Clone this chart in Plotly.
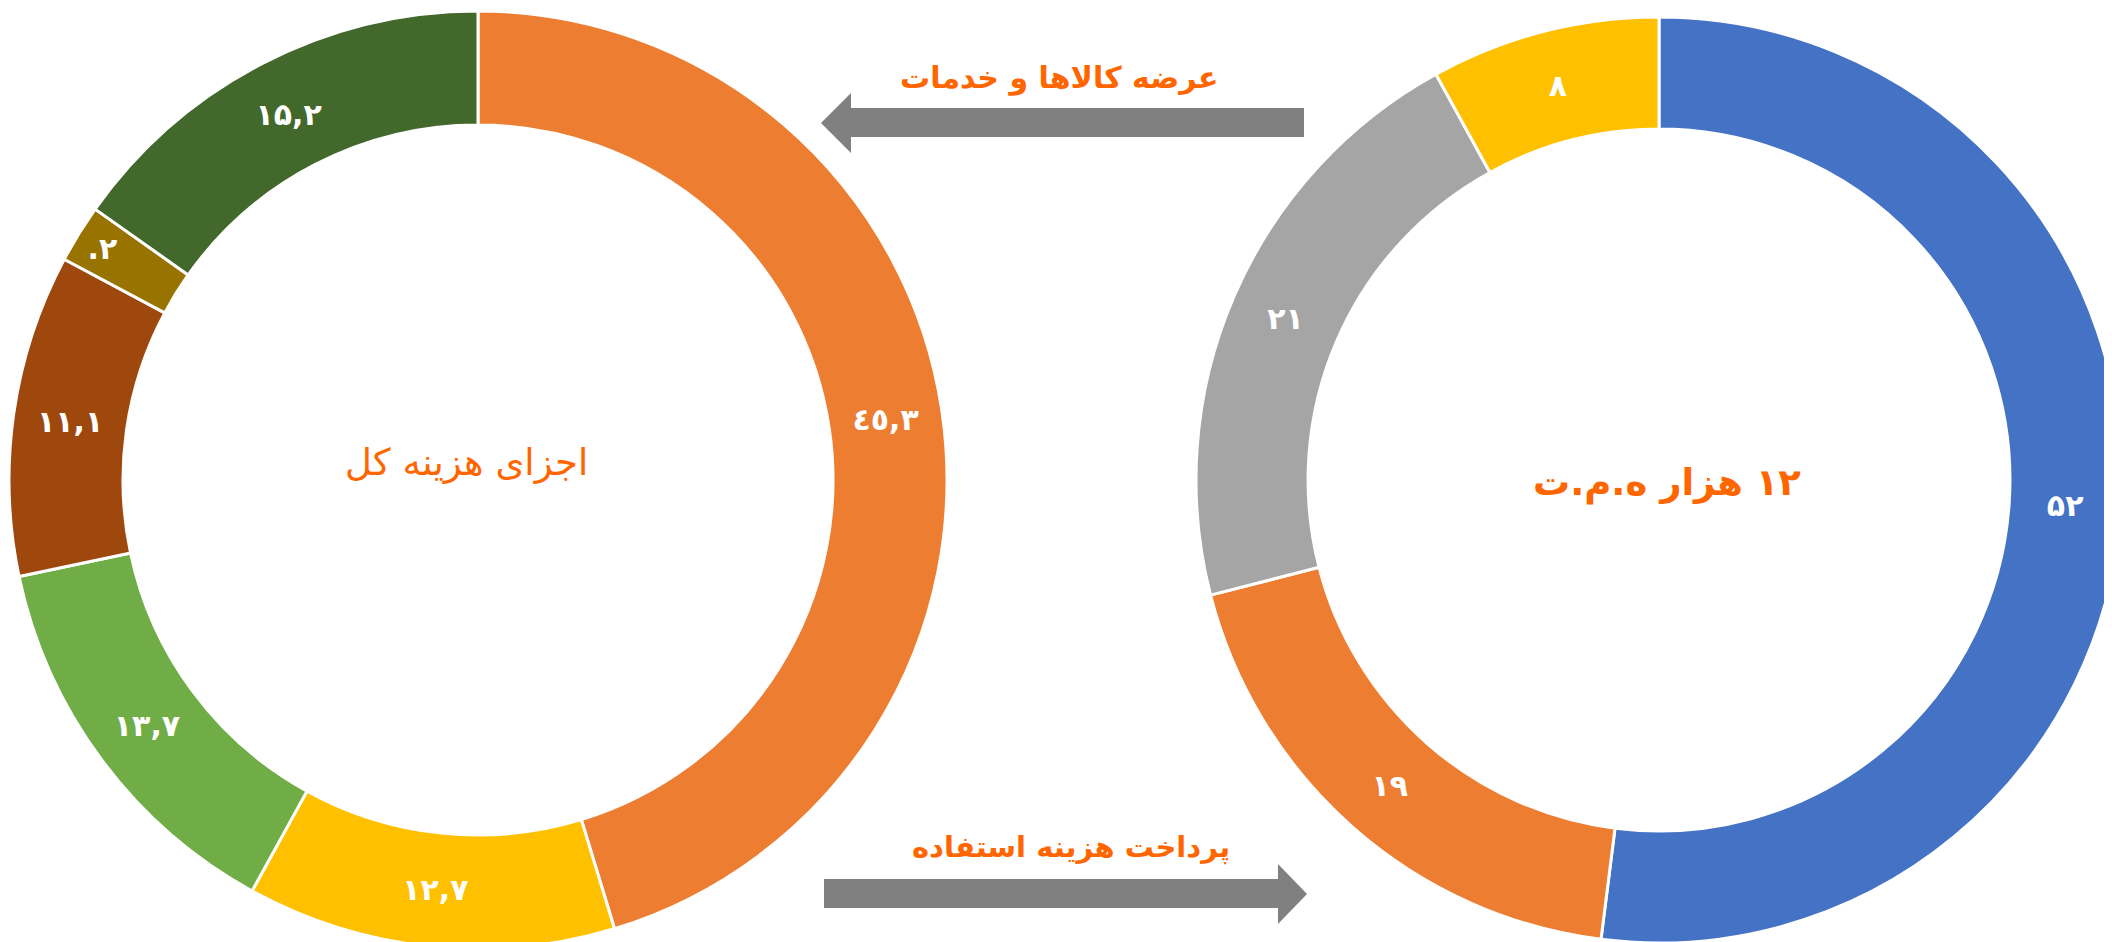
import plotly.graph_objects as go

# ---------------- data ----------------
left_labels = ["45.3", "12.7", "13.7", "11.1", "2", "15.2"]
left_values = [45.3, 12.7, 13.7, 11.1, 2.0, 15.2]
left_text = ["٤٥,٣", "۱۲,۷", "۱۳,۷", "۱۱,۱", ".۲", "۱۵,۲"]

right_labels = ["52", "19", "21", "8"]
right_values = [52, 19, 21, 8]
right_text = ["۵۲", "۱۹", "۲۱", "۸"]

left_title = "اجزای هزینه کل"
right_title = "\u200f۱۲ هزار ه.م.ت"
top_arrow_text = "عرضه کالاها و خدمات"
bottom_arrow_text = "پرداخت هزینه استفاده"

# ---------------- style ----------------
# the page body has an 8px margin; positions below are page pixels
OFF = 8
W, H = 2130, 960
left_colors = ["#ED7D31", "#FFC000", "#70AD47", "#9E480E", "#997300", "#43682B"]
right_colors = ["#4472C4", "#ED7D31", "#A5A5A5", "#FFC000"]
text_orange = "#FF6600"
arrow_grey = "#808080"
FONT = "DejaVu Sans"


def px(x):
    return (x - OFF) / W


def py(y):
    return 1 - (y - OFF) / H


def pie_domain(cx, cy, r):
    return dict(x=[px(cx - r), px(cx + r)], y=[py(cy + r), py(cy - r)])


fig = go.Figure()

# left donut: centre (478, 480) page px, radius 469
fig.add_trace(go.Pie(
    labels=left_labels, values=left_values, text=left_text,
    textinfo="text", textposition="inside", insidetextorientation="horizontal",
    sort=False, direction="clockwise", rotation=0, hole=0.757,
    marker=dict(colors=left_colors, line=dict(color="white", width=3)),
    textfont=dict(color="white", size=30, family=FONT, weight="bold"),
    domain=pie_domain(478, 480, 469),
    showlegend=False, hoverinfo="label+value", name="left",
))

# right donut: centre (1659, 480) page px, radius 463
fig.add_trace(go.Pie(
    labels=right_labels, values=right_values, text=right_text,
    textinfo="text", textposition="inside", insidetextorientation="horizontal",
    sort=False, direction="clockwise", rotation=0, hole=0.758,
    marker=dict(colors=right_colors, line=dict(color="white", width=3)),
    textfont=dict(color="white", size=30, family=FONT, weight="bold"),
    domain=pie_domain(1659, 480, 463),
    showlegend=False, hoverinfo="label+value", name="right",
))

# arrows (decorative block arrows), page px
top_arrow = [(821, 123), (851, 93), (851, 108), (1304, 108), (1304, 137), (851, 137), (851, 153)]
bottom_arrow = [(1307, 894), (1278, 864), (1278, 879), (824, 879), (824, 908), (1278, 908), (1278, 924)]


def arrow_path(pts):
    return "M " + " L ".join(f"{px(x):.5f},{py(y):.5f}" for x, y in pts) + " Z"


for pts in (top_arrow, bottom_arrow):
    fig.add_shape(type="path", xref="paper", yref="paper", path=arrow_path(pts),
                  fillcolor=arrow_grey, line=dict(width=0))

annots = [
    dict(text=left_title, x=466, y=463, size=37, bold=False),
    dict(text=right_title, x=1667, y=483, size=37, bold=True),
    dict(text=top_arrow_text, x=1059, y=78, size=30, bold=True),
    dict(text=bottom_arrow_text, x=1071, y=847, size=29, bold=True),
]
for a in annots:
    fig.add_annotation(
        text=f"<b>{a['text']}</b>" if a["bold"] else a["text"],
        x=px(a["x"]), y=py(a["y"]), xref="paper", yref="paper",
        xanchor="center", yanchor="middle", showarrow=False,
        font=dict(size=a["size"], color=text_orange, family=FONT),
    )

fig.update_layout(
    width=W, height=H,
    margin=dict(l=0, r=0, t=0, b=0),
    paper_bgcolor="white", plot_bgcolor="white",
    uniformtext=dict(minsize=30, mode="show"),
    font=dict(family=FONT),
)

fig.write_html("out.html")
